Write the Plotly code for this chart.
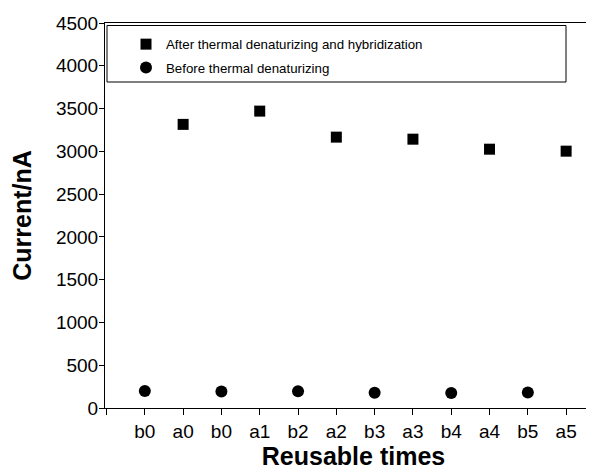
import plotly.graph_objects as go

tick_labels = ["b0", "a0", "b0", "a1", "b2", "a2", "b3", "a3", "b4", "a4", "b5", "a5"]
after_pos = [2, 4, 6, 8, 10, 12]
after_vals = [3315, 3470, 3166, 3142, 3025, 3002]
before_pos = [1, 3, 5, 7, 9, 11]
before_vals = [199, 193, 196, 178, 174, 180]

font_family = "Liberation Sans, Arial, sans-serif"

W, H = 594, 476
ML, MT, MB, MR = 97, 15, 76, 0
PW = W - ML - MR
PH = H - MT - MB

fig = go.Figure()
fig.add_trace(go.Scatter(
    x=after_pos, y=after_vals, mode="markers",
    name="After thermal denaturizing and hybridization",
    legendgroup="g1",
    marker=dict(symbol="square", size=11, color="black"),
))
fig.add_trace(go.Scatter(
    x=before_pos, y=before_vals, mode="markers",
    name="Before thermal denaturizing",
    legendgroup="g2",
    marker=dict(symbol="circle", size=12, color="black"),
))

# legend box (figure px coords converted to paper fractions)
bx0, bx1, by0, by1 = 99, 558, 17.5, 74
fig.update_layout(
    width=W, height=H,
    margin=dict(l=ML, r=MR, t=MT, b=MB, pad=0),
    plot_bgcolor="white", paper_bgcolor="white",
    font=dict(family=font_family, color="black", size=19),
    showlegend=True,
    legend=dict(
        x=(118 - ML) / PW, y=1 - (21 - MT) / PH, xanchor="left", yanchor="top",
        bgcolor="rgba(0,0,0,0)", borderwidth=0,
        font=dict(size=13.3, family=font_family),
        itemsizing="trace", tracegroupgap=3,
    ),
    shapes=[dict(
        type="rect", xref="paper", yref="paper",
        x0=(bx0 - ML) / PW, x1=(bx1 - ML) / PW,
        y0=1 - (by1 - MT) / PH, y1=1 - (by0 - MT) / PH,
        line=dict(color="black", width=1), fillcolor="rgba(0,0,0,0)",
    )],
)

fig.update_xaxes(
    range=[-0.04, -0.04 + PW / 38.3],
    tickmode="array",
    tickvals=list(range(0, 13)),
    ticktext=[""] + tick_labels,
    ticks="outside", ticklen=6, tickwidth=1, tickcolor="black",
    showline=True, linecolor="black", linewidth=1, mirror=True,
    showgrid=False, zeroline=False,
    tickfont=dict(size=19),
    title=dict(text="<b>Reusable times</b>", font=dict(size=25), standoff=0),
)
fig.update_yaxes(
    range=[0, 4500],
    tickmode="array",
    tickvals=[0, 500, 1000, 1500, 2000, 2500, 3000, 3500, 4000, 4500],
    ticks="outside", ticklen=5, tickwidth=1, tickcolor="black",
    showline=True, linecolor="black", linewidth=1,
    showgrid=False, zeroline=False,
    tickfont=dict(size=19), ticklabelstandoff=-3,
    title=dict(text="<b>Current/nA</b>", font=dict(size=25), standoff=25),
)

fig.write_html("out.html")
